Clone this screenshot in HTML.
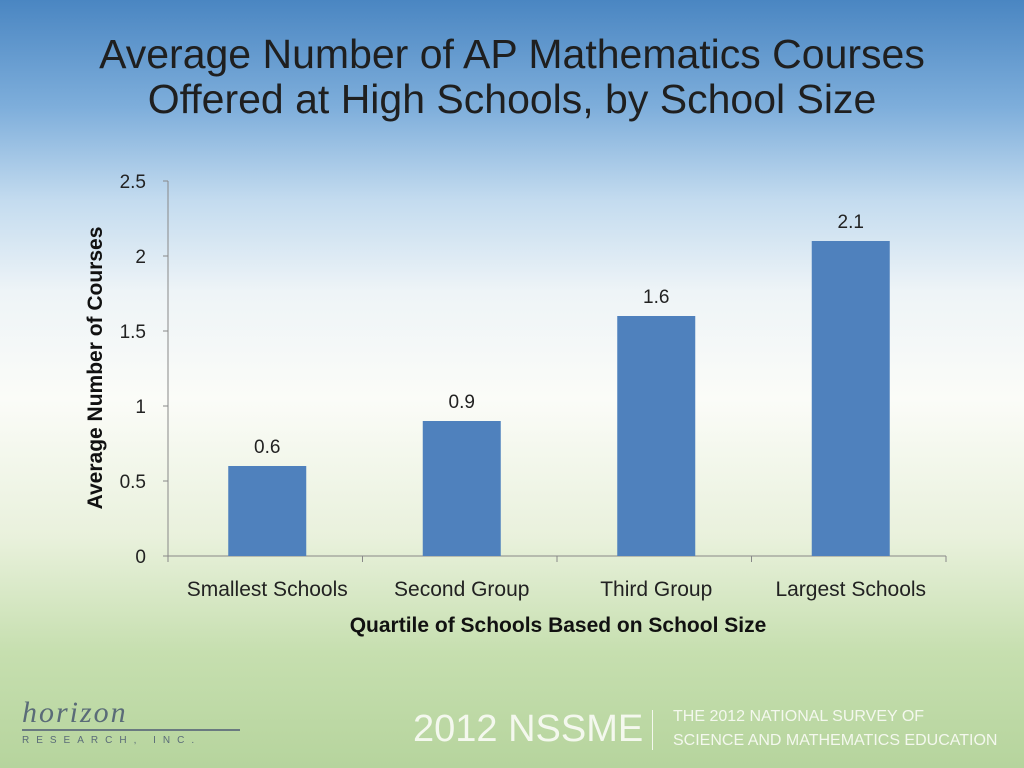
<!DOCTYPE html>
<html><head><meta charset="utf-8"><style>
body{margin:0;width:1024px;height:768px;overflow:hidden;font-family:"Liberation Sans",sans-serif;}
#bg{position:absolute;left:0;top:0;width:1024px;height:768px;background:linear-gradient(180deg,#4a86c2 0%,#7eaedb 14%,#c3dbef 26%,#eef4f7 38%,#fbfcf8 52%,#e9f1dc 70%,#c6dfaf 85%,#b6d49d 100%);}
.t{position:absolute;left:0;width:1024px;text-align:center;font-size:41px;line-height:45px;color:#1f1f1f;}
</style></head><body>
<div id="bg"></div>
<div class="t" style="top:32px;left:0px">Average Number of AP Mathematics Courses<br>Offered at High Schools, by School Size</div>
<svg id="c" width="1024" height="768" style="position:absolute;left:0;top:0"></svg>
<div style="position:absolute;left:22px;top:696px;font-family:'Liberation Serif',serif;font-style:italic;font-size:30px;color:#5a6b78;letter-spacing:2px">horizon</div>
<div style="position:absolute;left:22px;top:729px;width:218px;height:2px;background:#6a7a80"></div>
<div style="position:absolute;left:22px;top:735px;font-size:10px;letter-spacing:7px;color:#5a6b78">RESEARCH, INC.</div>
<div style="position:absolute;left:413px;top:708px;font-size:38px;color:#f4f8ee">2012 NSSME</div>
<div style="position:absolute;left:652px;top:710px;width:1px;height:40px;background:#f4f8ee"></div>
<div style="position:absolute;left:673px;top:705px;font-size:16px;line-height:24px;color:#f4f8ee">THE 2012 NATIONAL SURVEY OF<br>SCIENCE AND MATHEMATICS EDUCATION</div>
<script>
const categories=["Smallest Schools","Second Group","Third Group","Largest Schools"];
const values=[0.6,0.9,1.6,2.1];
const ticks=[0,0.5,1,1.5,2,2.5];
const NS="http://www.w3.org/2000/svg",svg=document.getElementById('c');
const x0=168,x1=946,y0=556,yTop=181,max=2.5;
const y=v=>y0-(v/max)*(y0-yTop);
const bw=(x1-x0)/categories.length;
const xc=i=>x0+bw*(i+0.5)+2;
function el(t,a,txt){const e=document.createElementNS(NS,t);for(const k in a)e.setAttribute(k,a[k]);if(txt!==undefined)e.textContent=txt;svg.appendChild(e);return e;}
let ax=el('line',{x1:x0,y1:yTop,x2:x0,y2:y0,stroke:'#888'});


let bx=el('line',{x1:x0,y1:y0,x2:x1,y2:y0,stroke:'#888'});


ticks.forEach(t=>{
 el('line',{x1:x0-5,y1:y(t),x2:x0,y2:y(t),stroke:'#888'});
 let l=el('text',{x:x0-22,y:y(t)+7,'text-anchor':'end','font-size':19,fill:'#222','font-family':'Liberation Sans'},String(t));
 
 
});
for(let i=0;i<=categories.length;i++)el('line',{x1:x0+bw*i,y1:y0,x2:x0+bw*i,y2:y0+6,stroke:'#888'});
categories.forEach((c,i)=>{
 let b=el('rect',{x:xc(i)-39,y:y(values[i]),width:78,height:y0-y(values[i]),fill:'#4f81bd'});
 
 
 let v=el('text',{x:xc(i),y:y(values[i])-13,'text-anchor':'middle','font-size':19,fill:'#222'},String(values[i]));
 
 
 let l=el('text',{x:xc(i),y:596,'text-anchor':'middle','font-size':21,fill:'#222'},c);
 
 
});
let xt=el('text',{x:558,y:632,'text-anchor':'middle','font-size':21,'font-weight':'bold',fill:'#111'},'Quartile of Schools Based on School Size');


let yt=el('text',{x:0,y:0,'text-anchor':'middle','font-size':21,'font-weight':'bold',fill:'#111',transform:'translate(102,368) rotate(-90)'},'Average Number of Courses');


</script>
</body></html>
